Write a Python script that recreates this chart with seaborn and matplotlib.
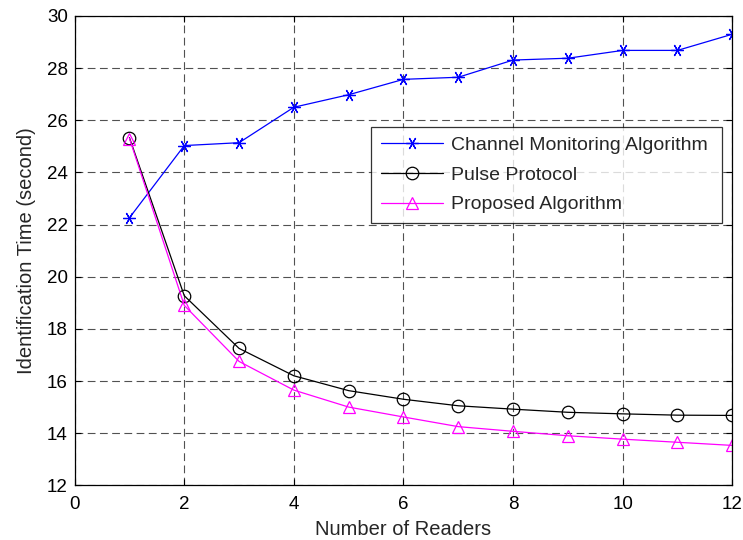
import numpy as np
import pandas as pd
import matplotlib
matplotlib.use("Agg")
import matplotlib.pyplot as plt
import seaborn as sns

readers = [1, 2, 3, 4, 5, 6, 7, 8, 9, 10, 11, 12]
channel_monitoring = [22.26, 25.03, 25.14, 26.5, 26.98, 27.57, 27.65, 28.31, 28.38, 28.68, 28.68, 29.3]
pulse_protocol = [25.33, 19.27, 17.25, 16.2, 15.63, 15.3, 15.05, 14.92, 14.8, 14.74, 14.69, 14.68]
proposed = [25.3, 18.9, 16.75, 15.65, 15.0, 14.62, 14.25, 14.07, 13.9, 13.77, 13.65, 13.53]

sns.set_style("white")
plt.rcParams["font.family"] = ["Liberation Sans", "DejaVu Sans"]

fig = plt.figure(figsize=(7.43, 5.40), dpi=100)
ax = fig.add_axes([0.1005, 0.1013, 0.8851, 0.8691])

sns.lineplot(x=readers, y=channel_monitoring, ax=ax, color="blue", lw=0.9,
             marker=(6, 2, 90), markersize=9, markeredgewidth=0.9,
             markeredgecolor="blue", label="Channel Monitoring Algorithm")
sns.lineplot(x=readers, y=pulse_protocol, ax=ax, color="black", lw=0.9,
             marker="o", markersize=9, markerfacecolor="none",
             markeredgecolor="black", markeredgewidth=0.9, label="Pulse Protocol")
sns.lineplot(x=readers, y=proposed, ax=ax, color="magenta", lw=0.9,
             marker="^", markersize=9, markerfacecolor="none",
             markeredgecolor="magenta", markeredgewidth=0.9, label="Proposed Algorithm")

ax.set_xlim(0, 12)
ax.set_ylim(12, 30)
ax.set_xticks(range(0, 13, 2))
ax.set_yticks(range(12, 31, 2))
ax.grid(True, color="#333333", linestyle=(0, (7, 4)), lw=0.8, alpha=0.85)
for s in ax.spines.values():
    s.set_visible(True)
    s.set_color("black")
    s.set_linewidth(0.9)
ax.tick_params(direction="in", length=4, width=0.8, labelsize=13.5, colors="black",
               top=True, right=True, bottom=True, left=True, pad=5)
ax.tick_params(axis="x", pad=8)
ax.set_xlabel("Number of Readers", fontsize=14.5, labelpad=5)
ax.set_ylabel("Identification Time (second)", fontsize=14.5, labelpad=8)

leg = ax.legend(loc="upper left", bbox_to_anchor=(0.4506, 0.764, 0.534, 0), mode="expand",
                fontsize=14, frameon=True, fancybox=False, borderaxespad=0,
                handlelength=3.2, handletextpad=0.4, labelspacing=0.62, borderpad=0.5)
leg.get_frame().set_edgecolor("black")
leg.get_frame().set_linewidth(0.9)

fig.savefig("out.png", dpi=100)
